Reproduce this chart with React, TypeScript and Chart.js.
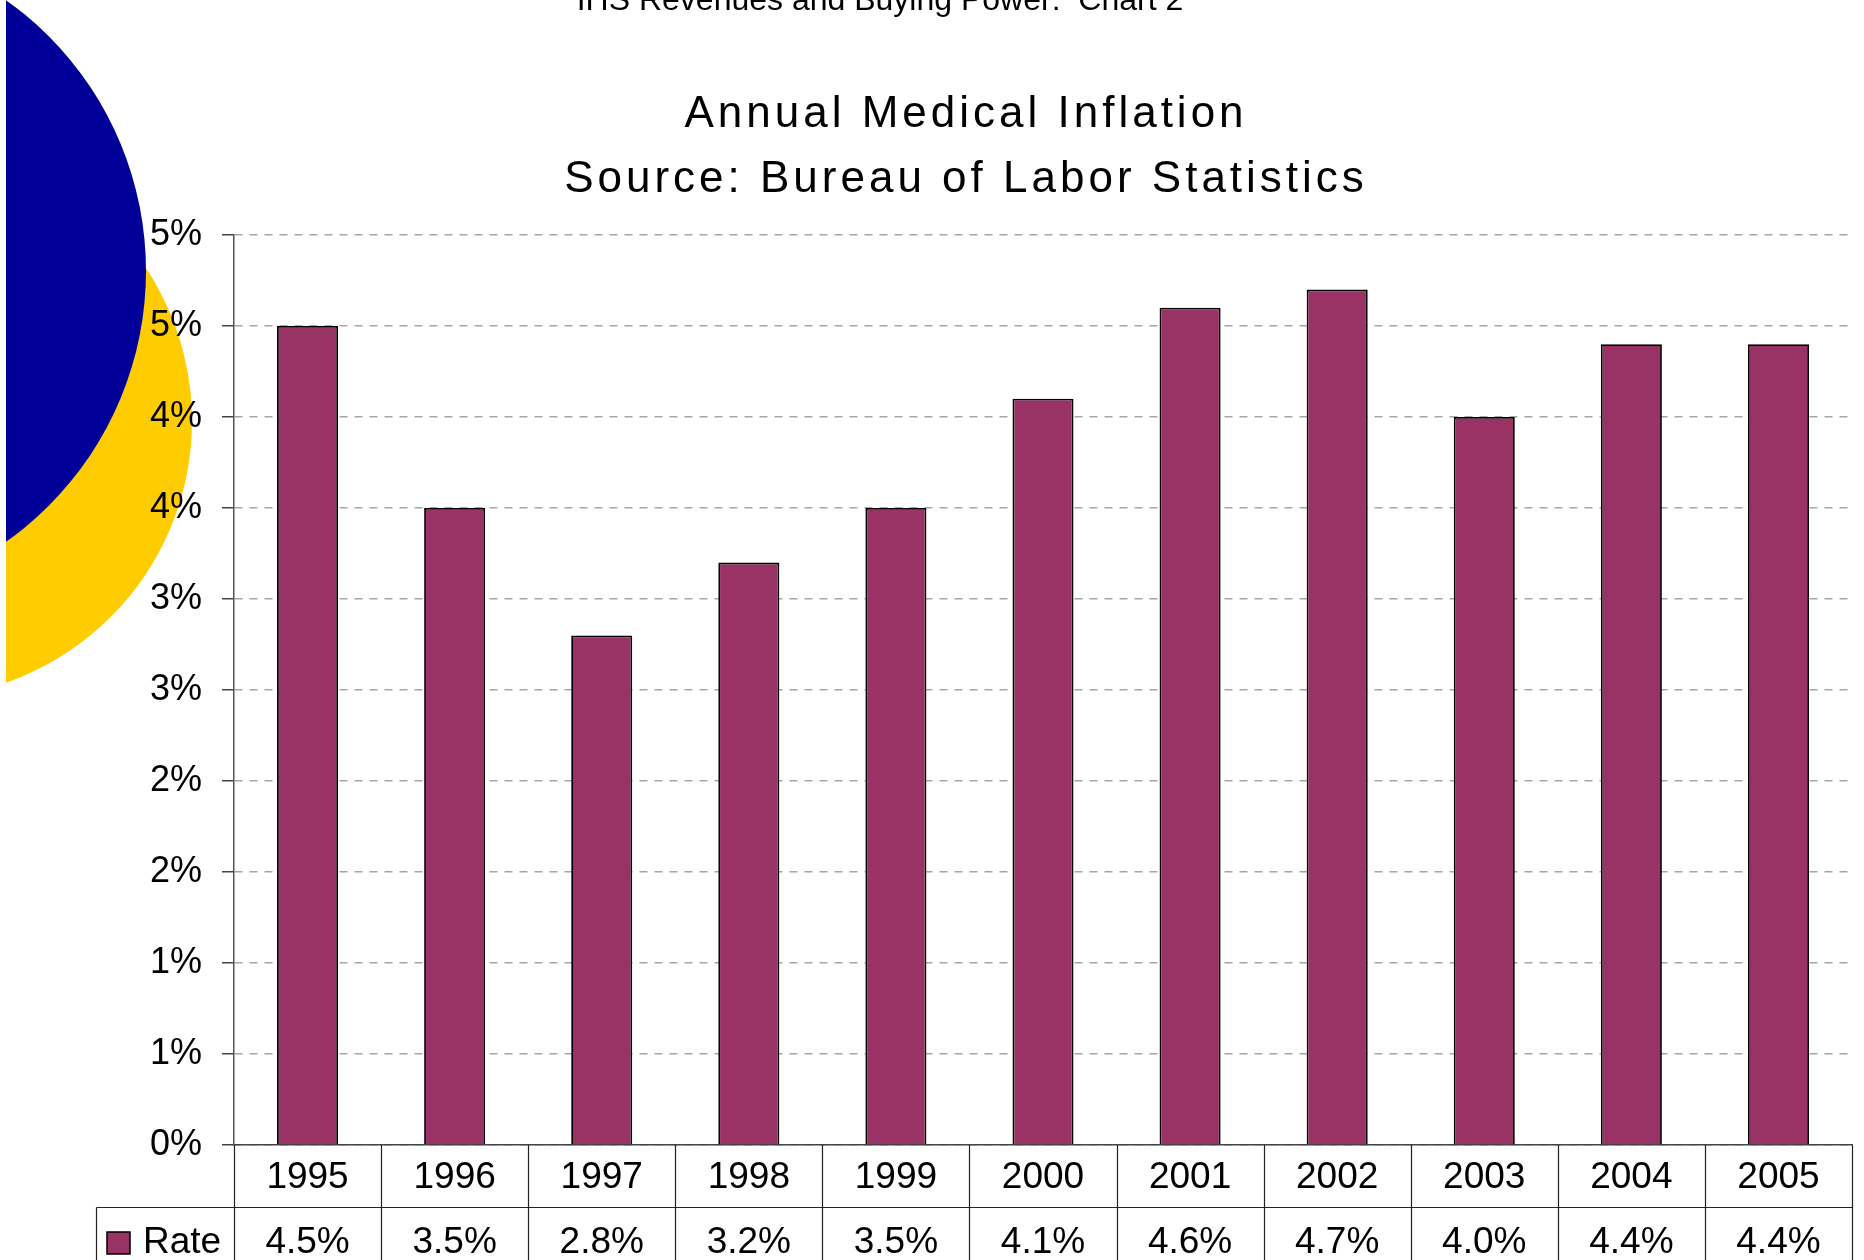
import React, { useEffect, useRef } from "react";
import { Chart, registerables } from "chart.js";

Chart.register(...registerables);

const W = 1864;
const H = 1260;

const headerText = "IHS Revenues and Buying Power:  Chart 2";
const titleLines = ["Annual Medical Inflation", "Source: Bureau of Labor Statistics"];
const seriesName = "Rate";
const years = ["1995", "1996", "1997", "1998", "1999", "2000", "2001", "2002", "2003", "2004", "2005"];
const rates = [4.5, 3.5, 2.8, 3.2, 3.5, 4.1, 4.6, 4.7, 4.0, 4.4, 4.4];
const rateLabels = ["4.5%", "3.5%", "2.8%", "3.2%", "3.5%", "4.1%", "4.6%", "4.7%", "4.0%", "4.4%", "4.4%"];
const yMin = 0;
const yMax = 5;
const yStep = 0.5;

const FONT = "'Liberation Sans', Arial, Helvetica, sans-serif";
const BAR = "#993366";

const decorPlugin = {
  id: "decor",
  beforeDraw(chart: any) {
    const ctx = chart.ctx;
    ctx.save();
    ctx.fillStyle = "#ffffff";
    ctx.fillRect(0, 0, W, H);
    ctx.beginPath();
    ctx.rect(6, 0, W, H);
    ctx.clip();
    ctx.fillStyle = "#FFCC00";
    ctx.beginPath();
    ctx.arc(-85, 421, 277, 0, Math.PI * 2);
    ctx.fill();
    ctx.fillStyle = "#000099";
    ctx.beginPath();
    ctx.arc(-186, 271, 332, 0, Math.PI * 2);
    ctx.fill();
    ctx.restore();

    ctx.save();
    ctx.fillStyle = "#000";
    ctx.textAlign = "center";
    ctx.textBaseline = "alphabetic";
    ctx.font = `32px ${FONT}`;
    ctx.fillText(headerText, 880, 10);
    ctx.font = `44px ${FONT}`;
    (ctx as any).letterSpacing = "4px";
    ctx.fillText(titleLines[0], 966, 127);
    ctx.fillText(titleLines[1], 966, 192);
    (ctx as any).letterSpacing = "0px";
    ctx.restore();
  },
  afterDraw(chart: any) {
    const ctx = chart.ctx;
    const xs = chart.scales.x;
    const ca = chart.chartArea;
    const n = years.length;
    const colW = (xs.right - xs.left) / n;
    const row2 = 1207.5;
    const tableLeft = 96.5;
    ctx.save();
    ctx.strokeStyle = "#222";
    ctx.lineWidth = 1.2;
    ctx.beginPath();
    ctx.moveTo(tableLeft, row2);
    ctx.lineTo(xs.right, row2);
    ctx.moveTo(tableLeft, row2);
    ctx.lineTo(tableLeft, H);
    for (let k = 0; k <= n; k++) {
      const x = Math.round(xs.left + k * colW) + 0.5;
      ctx.moveTo(x, ca.bottom);
      ctx.lineTo(x, H);
    }
    ctx.stroke();

    ctx.fillStyle = "#000";
    ctx.textAlign = "center";
    ctx.textBaseline = "middle";
    ctx.font = `37px ${FONT}`;
    for (let i = 0; i < n; i++) {
      const cx = xs.getPixelForValue(i);
      ctx.fillText(years[i], cx, 1178);
      ctx.fillText(rateLabels[i], cx, 1243);
    }

    ctx.fillStyle = BAR;
    ctx.fillRect(107, 1232, 23, 22);
    ctx.strokeStyle = "#000";
    ctx.lineWidth = 1.5;
    ctx.strokeRect(107, 1232, 23, 22);
    ctx.fillStyle = "#000";
    ctx.textAlign = "left";
    ctx.fillText(seriesName, 143, 1243);
    ctx.restore();
  },
};

export default function App() {
  const ref = useRef<HTMLCanvasElement | null>(null);
  useEffect(() => {
    if (!ref.current) return;
    const chart = new Chart(ref.current, {
      type: "bar",
      data: {
        labels: years,
        datasets: [
          {
            label: seriesName,
            data: rates,
            backgroundColor: BAR,
            borderColor: "#000",
            borderWidth: 1.8,
            categoryPercentage: 1,
            barPercentage: 0.415,
          },
        ],
      },
      options: {
        responsive: false,
        animation: false,
        devicePixelRatio: 1,
        layout: { padding: { top: 235, left: 0, right: 12, bottom: 0 } },
        plugins: {
          legend: { display: false },
          title: { display: false },
          tooltip: { enabled: false },
        },
        scales: {
          x: {
            grid: { display: false },
            border: { display: true, color: "#444", width: 1.5 },
            ticks: { display: false },
            afterFit: (s: any) => {
              s.height = 115;
            },
          },
          y: {
            min: yMin,
            max: yMax,
            ticks: {
              stepSize: yStep,
              callback: (v: any) => Math.round(Number(v)) + "%",
              font: { family: FONT, size: 36 },
              color: "#000",
              padding: 20,
            },
            grid: {
              color: "#a6a6a6",
              lineWidth: 1.5,
              tickColor: "#444",
              tickLength: 12,
              tickWidth: 1.5,
            },
            border: { display: true, color: "#555", width: 1.5, dash: [8, 7] },
            afterFit: (s: any) => {
              s.width = 234;
            },
          },
        },
      },
      plugins: [decorPlugin],
    } as any);
    return () => chart.destroy();
  }, []);
  return (
    <div style={{ position: "absolute", left: 0, top: 0, width: W, height: H, background: "#fff" }}>
      <canvas ref={ref} width={W} height={H} style={{ display: "block", width: W, height: H }} />
    </div>
  );
}
